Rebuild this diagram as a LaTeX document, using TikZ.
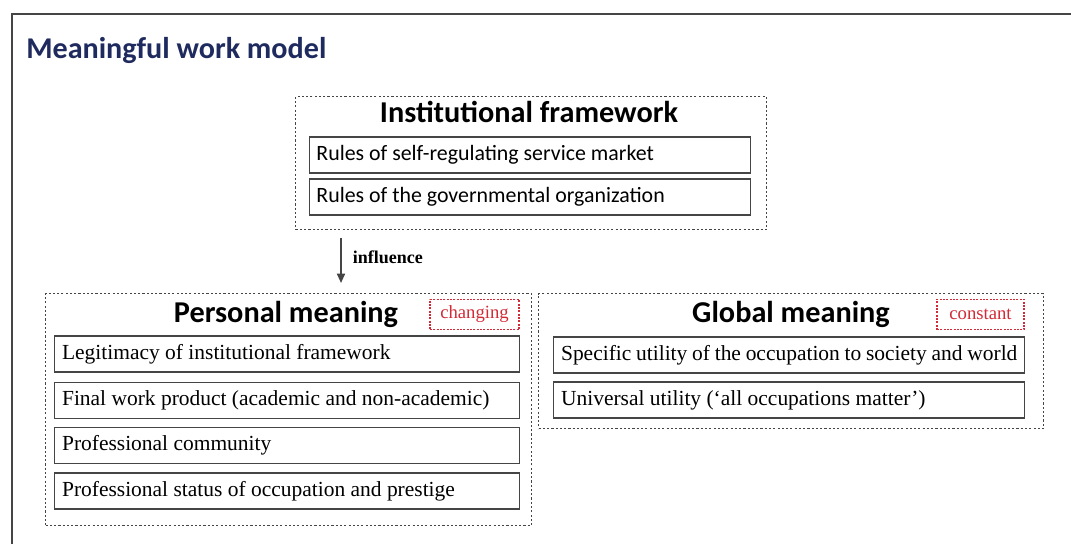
\documentclass[tikz,border=0pt]{standalone}
\usepackage{fontspec}
\setmainfont{Liberation Serif}
\newfontfamily\calibri{Carlito}
\usetikzlibrary{arrows.meta}

\definecolor{titleblue}{HTML}{1F2A5E}
\definecolor{tagred}{HTML}{D22A36}
\definecolor{boxgray}{HTML}{454545}

\begin{document}
\begin{tikzpicture}[x=0.75pt, y=-0.75pt,
	group/.style = {draw = boxgray, line width = 0.9pt, dash pattern = on 1.6pt off 1.6pt, anchor = north west, inner sep = 0pt},
	head/.style = {anchor = base, font = \calibri\bfseries\fontsize{22.7}{24}\selectfont},
	rule/.style = {draw = boxgray, line width = 1.1pt, anchor = west, minimum height = 27pt, inner xsep = 5pt, align = flush left, font = \calibri\fontsize{16.4}{18}\selectfont},
	item/.style = {draw = boxgray, line width = 1.1pt, anchor = west, minimum height = 27pt, inner xsep = 5.5pt, align = flush left, font = \fontsize{16.1}{18}\selectfont},
	tag/.style = {draw = tagred, text = tagred, line width = 0.8pt, dash pattern = on 1.5pt off 1pt, minimum height = 23pt, inner xsep = 0pt, font = \fontsize{14}{16}\selectfont}
]
	\useasboundingbox (0, 0) rectangle (1071, 544);
	\draw[boxgray, line width = 1.1pt] (12, 544) -- (12, 14) -- (1071, 14);
	\node[anchor = base west, text = titleblue, font = \calibri\bfseries\fontsize{22.6}{24}\selectfont, inner sep = 0pt] (title) at (26, 58) {Meaningful work model};

	% institutional framework
	\node[group, minimum width = 353.25pt, minimum height = 99.75pt] (inst) at (295, 96) {};
	\node[head] (insthead) at (529, 122) {Institutional framework};
	\node[rule, minimum width = 330.75pt, text width = 320.75pt] (rule1) at (309, 155) {Rules of self-regulating service market};
	\node[rule, minimum width = 330.75pt, text width = 320.75pt] (rule2) at (309, 197) {Rules of the governmental organization};

	\coordinate (inflA) at (341, 238);
	\coordinate (inflB) at (341, 283);
	\draw[-{Triangle[length = 7pt, width = 6pt]}, boxgray, line width = 1.3pt] (inflA) -- (inflB) node[pos = 0.43, anchor = west, xshift = 5pt, text = black, font = \bfseries\fontsize{13.5}{15}\selectfont] {influence};

	% personal meaning
	\node[group, minimum width = 364.5pt, minimum height = 174pt] (pers) at (45, 293) {};
	\node[head] (pershead) at (286, 322) {Personal meaning};
	\node[tag, minimum width = 66.75pt] (changing) at (474.5, 314.5) {changing};
	\node[item, minimum width = 348.75pt, text width = 337.75pt] (p1) at (54, 354) {Legitimacy of institutional framework};
	\node[item, minimum width = 348.75pt, text width = 337.75pt] (p2) at (54, 400.5) {Final work product (academic and non-academic)};
	\node[item, minimum width = 348.75pt, text width = 337.75pt] (p3) at (54, 445.5) {Professional community};
	\node[item, minimum width = 348.75pt, text width = 337.75pt] (p4) at (54, 491) {Professional status of occupation and prestige};

	% global meaning
	\node[group, minimum width = 378.75pt, minimum height = 101.25pt] (glob) at (538, 293) {};
	\node[head] (globhead) at (791, 322) {Global meaning};
	\node[tag, minimum width = 65.25pt] (constant) at (980.5, 314.5) {constant};
	\node[item, minimum width = 353.25pt, text width = 342.25pt] (g1) at (553, 355) {Specific utility of the occupation to society and world};
	\node[item, minimum width = 353.25pt, text width = 342.25pt] (g2) at (553, 400) {Universal utility (`all occupations matter')};
\end{tikzpicture}
\end{document}
